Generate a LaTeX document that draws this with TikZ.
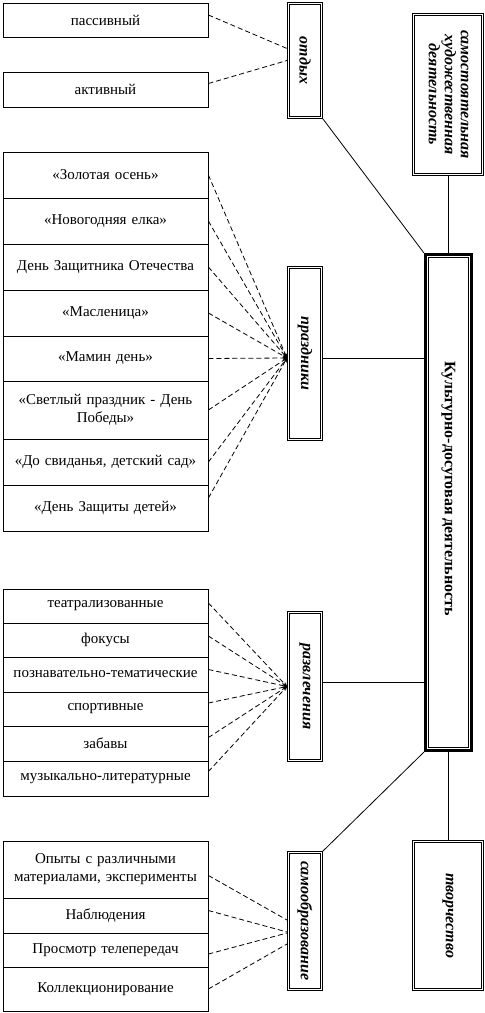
\documentclass[tikz,border=0pt]{standalone}
\usepackage{fontspec}
\setmainfont{Liberation Serif}
\usetikzlibrary{positioning, arrows}

\begin{document}
\begin{tikzpicture}[x=1pt,y=-1pt]
		\tikzstyle{item} = [draw, line width=0.8, minimum width=205, text width=200, align=center, inner sep=0, font=\fontsize{15}{18}\selectfont]
		\tikzstyle{group} = [draw, line width=0.7, double, double distance=1.5, outer sep=1.5, minimum width=33, font=\bfseries\itshape\fontsize{16}{16}\selectfont]
		\tikzstyle{main} = [draw, line width=3, minimum width=46, minimum height=496, font=\bfseries\fontsize{16}{18}\selectfont]
		\tikzstyle{dashline} = [draw, line width=0.8, dash pattern=on 5pt off 3pt]
		\tikzstyle{arrowline} = [draw, -stealth, line width=0.8, dash pattern=on 5pt off 3pt]
		\tikzstyle{link} = [draw, line width=0.8]
		\useasboundingbox (0,0) rectangle (485,1013);
		% rest
		\node [item, minimum height=34] (v1) at (105.5,20) {пассивный};
		\node [item, minimum height=35] (v2) at (105.5,89.5) {активный};
		\node [group, minimum height=114] (v3) at (305,60.5) {\rotatebox{-90}{отдых}};
		\draw [dashline] ([yshift=5pt]v1.east) -- ([yshift=12pt]v3.west);
		\draw [dashline] ([yshift=6pt]v2.east) -- (v3.west);
		% holidays
		\node [item, minimum height=46] (v4) at (105.5,175) {«Золотая осень»};
		\node [item, minimum height=46] (v5) at (105.5,221) {«Новогодняя елка»};
		\node [item, minimum height=46] (v6) at (105.5,267) {День Защитника Отечества};
		\node [item, minimum height=46] (v7) at (105.5,313) {«Масленица»};
		\node [item, minimum height=45] (v8) at (105.5,358.5) {«Мамин день»};
		\node [item, minimum height=58] (v9) at (105.5,410) {«Светлый праздник - День\\Победы»};
		\node [item, minimum height=46] (v10) at (105.5,462) {«До свиданья, детский сад»};
		\node [item, minimum height=46] (v11) at (105.5,508) {«День Защиты детей»};
		\node [group, minimum height=172] (v12) at (305,353.5) {\rotatebox{-90}{праздники}};
		\coordinate (v13) at ([yshift=-4.5pt]v12.west);
		\draw [arrowline] (v4.east) -- (v13);
		\draw [arrowline] (v5.east) -- (v13);
		\draw [arrowline] (v6.east) -- (v13);
		\draw [arrowline] (v7.east) -- (v13);
		\draw [arrowline] (v8.east) -- (v13);
		\draw [arrowline] (v9.east) -- (v13);
		\draw [arrowline] (v10.east) -- (v13);
		\draw [arrowline] ([yshift=10pt]v11.east) -- (v13);
		% entertainment
		\node [item, minimum height=34] (v14) at (105.5,606) {театрализованные};
		\node [item, minimum height=34] (v15) at (105.5,640) {фокусы};
		\node [item, minimum height=35] (v16) at (105.5,674.5) {познавательно-тематические};
		\node [item, minimum height=34] (v17) at (105.5,709) {спортивные};
		\node [item, minimum height=35] (v18) at (105.5,743.5) {забавы};
		\node [item, minimum height=35] (v19) at (105.5,778.5) {музыкально-литературные};
		\node [group, minimum height=148] (v20) at (305,686.5) {\rotatebox{-90}{развлечения}};
		\draw [arrowline] ([yshift=3pt]v14.east) -- (v20.west);
		\draw [arrowline] ([yshift=4pt]v15.east) -- (v20.west);
		\draw [arrowline] ([yshift=5pt]v16.east) -- (v20.west);
		\draw [arrowline] ([yshift=6pt]v17.east) -- (v20.west);
		\draw [arrowline] ([yshift=6pt]v18.east) -- (v20.west);
		\draw [arrowline] ([yshift=7pt]v19.east) -- (v20.west);
		% self-education
		\node [item, minimum height=57] (v21) at (105.5,869.5) {Опыты с различными\\материалами, эксперименты};
		\node [item, minimum height=35] (v22) at (105.5,915.5) {Наблюдения};
		\node [item, minimum height=34] (v23) at (105.5,950) {Просмотр телепередач};
		\node [item, minimum height=44] (v24) at (105.5,989) {Коллекционирование};
		\node [group, minimum height=137] (v25) at (305,921) {\rotatebox{-90}{самообразование}};
		\draw [dashline] ([yshift=-6pt]v21.east) -- ([yshift=1pt]v25.west);
		\draw [dashline] ([yshift=5pt]v22.east) -- ([yshift=-11pt]v25.west);
		\draw [dashline] ([yshift=-4pt]v23.east) -- ([yshift=-12pt]v25.west);
		\draw [dashline] (v24.east) -- ([yshift=-23pt]v25.west);
		% centre
		\node [main] (v26) at (448.5,502.5) {\rotatebox{-90}{Культурно-досуговая деятельность\hspace*{28pt}}};
		\draw [line width=0.6] ([xshift=4.5pt,yshift=-4.5pt]v26.north west) rectangle ([xshift=-4.5pt,yshift=4.5pt]v26.south east);
		\node [group, minimum width=69, minimum height=160] (v27) at (448,94.5) {\rotatebox{-90}{\begin{tabular}{@{}c@{}}самостоятельная\\художественная\\деятельность\end{tabular}}};
		\node [group, minimum width=69, minimum height=148] (v28) at (448,915.5) {\rotatebox{-90}{творчество}};
		\draw [link] (v3.south east) -- (v26.north west);
		\draw [link] (v27.south) -- (v27.south |- v26.north);
		\draw [link] ([yshift=-4.5pt]v12.east) -- ([yshift=-4.5pt]v12.east -| v26.west);
		\draw [link] ([yshift=4pt]v20.east) -- ([yshift=4pt]v20.east -| v26.west);
		\draw [link] (v26.south west) -- (v25.north east);
		\draw [link] (v28.north |- v26.south) -- (v28.north);
\end{tikzpicture}
\end{document}
